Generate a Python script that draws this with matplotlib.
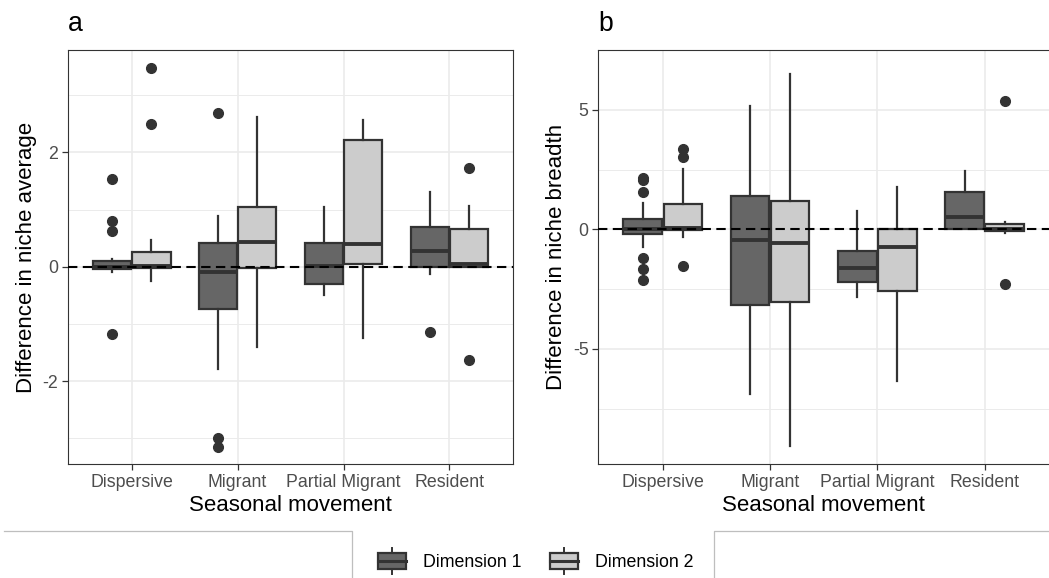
import matplotlib
matplotlib.use("Agg")
import matplotlib.pyplot as plt
from matplotlib.legend_handler import HandlerBase
from matplotlib.patches import Rectangle, Patch
from matplotlib.lines import Line2D

plt.rcParams['font.family'] = ['Liberation Sans', 'DejaVu Sans']
plt.rcParams['axes.unicode_minus'] = False

categories = ['Dispersive', 'Migrant', 'Partial Migrant', 'Resident']
series_names = ['Dimension 1', 'Dimension 2']

# five-number summaries (whisker low, q1, median, q3, whisker high) per category
avg_dim1 = [(-0.10, -0.045, 0.00, 0.10, 0.13),
            (-1.79, -0.735, -0.09, 0.42, 0.89),
            (-0.49, -0.31, 0.02, 0.42, 1.05),
            (-0.13, 0.00, 0.27, 0.70, 1.31)]
avg_dim2 = [(-0.25, -0.02, 0.01, 0.26, 0.47),
            (-1.40, -0.03, 0.43, 1.05, 2.61),
            (-1.24, 0.05, 0.40, 2.21, 2.56),
            (0.00, 0.00, 0.05, 0.665, 1.07)]
avg_dim1_out = [[1.53, 0.80, 0.62, -1.18], [2.68, -3.00, -3.15], [], [-1.15]]
avg_dim2_out = [[3.47, 2.50], [], [], [1.73, -1.63]]

brd_dim1 = [(-0.76, -0.21, 0.03, 0.41, 1.09),
            (-6.88, -3.17, -0.45, 1.41, 5.15),
            (-2.82, -2.21, -1.62, -0.92, 0.76),
            (0.00, 0.00, 0.51, 1.57, 2.45)]
brd_dim2 = [(-0.32, -0.05, 0.05, 1.04, 2.54),
            (-9.08, -3.04, -0.56, 1.20, 6.48),
            (-6.33, -2.57, -0.74, 0.00, 1.76),
            (-0.15, -0.08, 0.00, 0.22, 0.30)]
brd_dim1_out = [[2.16, 2.06, 1.54, -1.22, -1.68, -2.12], [], [], []]
brd_dim2_out = [[3.35, 3.04, -1.55], [], [], [5.36, -2.27]]

fills = ['#666666', '#CCCCCC']
edge = '#333333'


def make_stats(summary, outliers):
    stats = []
    for (lo, q1, med, q3, hi), fl in zip(summary, outliers):
        stats.append(dict(whislo=lo, q1=q1, med=med, q3=q3, whishi=hi, fliers=fl))
    return stats


def draw_panel(ax, groups, ylim, major, minor, ylabel, tag):
    offsets = [-0.1875, 0.1875]
    for k, (summary, outliers) in enumerate(groups):
        pos = [i + 1 + offsets[k] for i in range(len(categories))]
        ax.bxp(make_stats(summary, outliers), positions=pos, widths=0.36,
               patch_artist=True, showcaps=False,
               boxprops=dict(facecolor=fills[k], edgecolor=edge, linewidth=1.6),
               medianprops=dict(color=edge, linewidth=2.8, solid_capstyle='butt'),
               whiskerprops=dict(color=edge, linewidth=1.6),
               flierprops=dict(marker='o', markerfacecolor=edge, markeredgecolor=edge,
                               markersize=7, linestyle='none'),
               manage_ticks=False, zorder=3)
    ax.axhline(0, color='black', linewidth=1.5, linestyle=(0, (4.5, 2.6)), zorder=5)
    ax.set_xlim(0.4, 4.6)
    ax.set_ylim(*ylim)
    ax.set_xticks(range(1, len(categories) + 1))
    ax.set_xticklabels(categories)
    ax.set_yticks(major)
    ax.set_yticklabels([str(v) for v in major])
    ax.set_yticks(minor, minor=True)
    ax.grid(True, which='major', color='#EBEBEB', linewidth=1.2)
    ax.grid(True, which='minor', axis='y', color='#EBEBEB', linewidth=0.7)
    ax.set_axisbelow(True)
    ax.tick_params(which='major', length=4, width=0.9, color=edge, labelsize=12.8,
                   labelcolor='#4D4D4D', pad=3)
    ax.tick_params(which='minor', length=0)
    for s in ax.spines.values():
        s.set_color(edge)
        s.set_linewidth(0.8)
    ax.set_xlabel('Seasonal movement', fontsize=16, labelpad=3)
    ax.set_ylabel(ylabel, fontsize=16, labelpad=4)
    ax.text(0.0, 1.045, tag, transform=ax.transAxes, fontsize=19.2, ha='left', va='baseline')


class BoxKeyHandler(HandlerBase):
    def create_artists(self, legend, orig_handle, xdescent, ydescent, width, height,
                       fontsize, trans):
        x0, y0 = -xdescent, -ydescent
        bh = height * 0.6
        by = y0 + (height - bh) / 2
        box = Rectangle((x0, by), width, bh, facecolor=orig_handle.get_facecolor(),
                        edgecolor=edge, linewidth=1.6, transform=trans)
        med = Line2D([x0, x0 + width], [y0 + height / 2] * 2, color=edge, linewidth=2.2,
                     transform=trans)
        wl = Line2D([x0 + width / 2] * 2, [y0, by], color=edge,
                    linewidth=1.4, transform=trans)
        wh = Line2D([x0 + width / 2] * 2, [by + bh, y0 + height], color=edge,
                    linewidth=1.4, transform=trans)
        return [wl, wh, box, med]


fig = plt.figure(figsize=(10.49, 5.78), dpi=100)
ax_a = fig.add_axes([0.0648, 0.1972, 0.4243, 0.7163])
ax_b = fig.add_axes([0.5704, 0.1972, 0.4296, 0.7163])

draw_panel(ax_a, [(avg_dim1, avg_dim1_out), (avg_dim2, avg_dim2_out)],
           (-3.45, 3.79), [-2, 0, 2], [-3, -1, 1, 3], 'Difference in niche average', 'a')
draw_panel(ax_b, [(brd_dim1, brd_dim1_out), (brd_dim2, brd_dim2_out)],
           (-9.82, 7.24), [-5, 0, 5], [-7.5, -2.5, 2.5, 7.5], 'Difference in niche breadth', 'b')
ax_b.spines['right'].set_visible(False)

# legend background outline
line_y = (578 - 531) / 578
fig.add_artist(Line2D([4 / 1049, 352 / 1049, 352 / 1049], [line_y, line_y, 0],
                      transform=fig.transFigure, color='#BEBEBE', linewidth=0.9))
fig.add_artist(Line2D([1.0, 714 / 1049, 714 / 1049], [line_y, line_y, 0],
                      transform=fig.transFigure, color='#BEBEBE', linewidth=0.9))

handles = [Patch(facecolor=fills[k], edgecolor=edge) for k in range(2)]
fig.legend(handles, series_names, loc='center', bbox_to_anchor=(0.511, (578 - 561) / 578),
           ncol=2, frameon=False, fontsize=12.8, handlelength=1.58, handleheight=1.86,
           handletextpad=0.95, columnspacing=1.6, borderpad=0,
           handler_map={Patch: BoxKeyHandler()})

fig.savefig('out.png', dpi=100)
